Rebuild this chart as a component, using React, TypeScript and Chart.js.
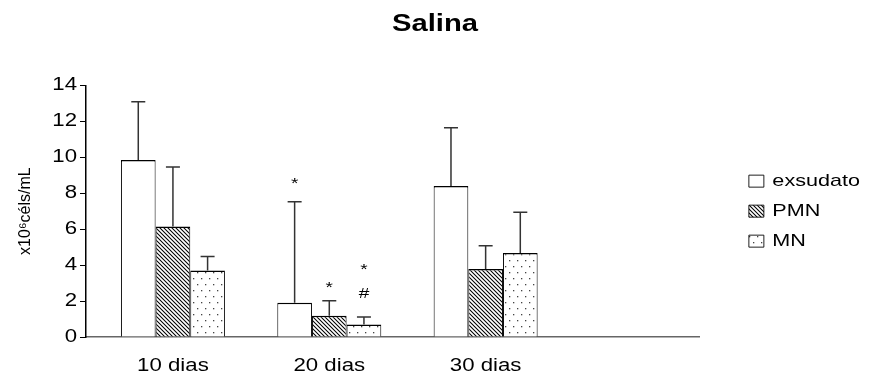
import React, { useEffect, useRef } from 'react';
import { Chart, registerables } from 'chart.js';

Chart.register(...registerables);

const categories = ['10 dias', '20 dias', '30 dias'];
const positions = [1, 2, 3];

const exsudato = [9.85, 1.9, 8.4];
const exsudatoSD = [3.24, 5.62, 3.24];
const pmn = [6.14, 1.18, 3.78];
const pmnSD = [3.32, 0.84, 1.29];
const mn = [3.7, 0.7, 4.67];
const mnSD = [0.78, 0.41, 2.27];

const yTicks = [0, 2, 4, 6, 8, 10, 12, 14];

// significance marks: series index, category index, symbol, value where glyph sits
const markSeries = [0, 1, 2, 2];
const markCategory = [1, 1, 1, 1];
const markText = ['*', '*', '*', '#'];
const markValue = [8.65, 2.87, 3.92, 2.44];

const FONT = "'Liberation Sans', Arial, sans-serif";
const SX = 1.27; // horizontal text stretch seen in the reference
const LEGEND_EXTRA = 36.5;

function makeHatch(ctx: CanvasRenderingContext2D) {
  const c = document.createElement('canvas');
  c.width = 4;
  c.height = 4;
  const g = c.getContext('2d')!;
  g.fillStyle = '#fff';
  g.fillRect(0, 0, 4, 4);
  g.strokeStyle = '#000';
  g.lineWidth = 1.05;
  g.beginPath();
  g.moveTo(-1, -1);
  g.lineTo(5, 5);
  g.moveTo(-1, 3);
  g.lineTo(1, 5);
  g.moveTo(3, -1);
  g.lineTo(5, 1);
  g.stroke();
  return ctx.createPattern(c, 'repeat')!;
}

function makeDots(ctx: CanvasRenderingContext2D) {
  const c = document.createElement('canvas');
  c.width = 8;
  c.height = 12;
  const g = c.getContext('2d')!;
  g.fillStyle = '#fff';
  g.fillRect(0, 0, 8, 12);
  g.fillStyle = '#444';
  g.fillRect(1, 2, 1.3, 1.3);
  g.fillRect(5, 8, 1.3, 1.3);
  return ctx.createPattern(c, 'repeat')!;
}

function stretchText(ctx: any) {
  if (ctx._stretched) return;
  ctx._stretched = true;
  ctx._sx = SX;
  const origFill = ctx.fillText.bind(ctx);
  const origMeasure = ctx.measureText.bind(ctx);
  ctx.fillText = function (text: string, x: number, y: number, maxWidth?: number) {
    const sx = ctx._sx;
    if (sx === 1) {
      return maxWidth === undefined ? origFill(text, x, y) : origFill(text, x, y, maxWidth);
    }
    ctx.save();
    ctx.translate(x, y);
    ctx.scale(sx, 1);
    if (maxWidth === undefined) origFill(text, 0, 0);
    else origFill(text, 0, 0, maxWidth / sx);
    ctx.restore();
  };
  ctx.measureText = function (text: string) {
    const m = origMeasure(text);
    const sx = ctx._sx;
    return {
      width: m.width * sx,
      actualBoundingBoxAscent: m.actualBoundingBoxAscent,
      actualBoundingBoxDescent: m.actualBoundingBoxDescent,
      actualBoundingBoxLeft: m.actualBoundingBoxLeft * sx,
      actualBoundingBoxRight: m.actualBoundingBoxRight * sx,
      fontBoundingBoxAscent: m.fontBoundingBoxAscent,
      fontBoundingBoxDescent: m.fontBoundingBoxDescent,
    };
  };
}

export default function App() {
  const ref = useRef<HTMLCanvasElement | null>(null);

  useEffect(() => {
    document.body.style.margin = '0';
    const canvas = ref.current!;
    const ctx = canvas.getContext('2d')!;
    stretchText(ctx);
    const hatch = makeHatch(ctx);
    const dots = makeDots(ctx);

    const seriesValues = [exsudato, pmn, mn];
    const seriesSD = [exsudatoSD, pmnSD, mnSD];

    const helperPlugin = {
      id: 'helpers',
      beforeLayout(chart: any) {
        const lg = chart.legend;
        if (lg && !lg._patched) {
          const orig = lg.fit.bind(lg);
          lg.fit = function () {
            orig();
            this._origW = this.width;
            this.width += LEGEND_EXTRA;
          };
          lg._patched = true;
        }
      },
      afterLayout(chart: any) {
        const lg = chart.legend;
        if (lg && lg._origW) {
          lg.left = lg.right - lg._origW;
        }
      },
      beforeDraw(chart: any) {
        const y = chart.scales.y;
        if (y && !y._patchedTitle) {
          const orig = y.drawTitle.bind(y);
          y.drawTitle = function () {
            const c = this.ctx as any;
            c._sx = 1;
            orig();
            c._sx = SX;
          };
          y._patchedTitle = true;
        }
      },
      afterDatasetsDraw(chart: any) {
        const c = chart.ctx as CanvasRenderingContext2D;
        const yScale = chart.scales.y;
        c.save();
        c.strokeStyle = '#333';
        c.lineWidth = 1.5;
        seriesValues.forEach((vals, di) => {
          const meta = chart.getDatasetMeta(di);
          meta.data.forEach((bar: any, i: number) => {
            const top = yScale.getPixelForValue(vals[i] + seriesSD[di][i]);
            c.beginPath();
            c.moveTo(bar.x, bar.y);
            c.lineTo(bar.x, top);
            c.moveTo(bar.x - 7, top);
            c.lineTo(bar.x + 7, top);
            c.stroke();
          });
        });
        c.fillStyle = '#000';
        c.font = `15px ${FONT}`;
        c.textAlign = 'center';
        c.textBaseline = 'alphabetic';
        markText.forEach((t, k) => {
          const meta = chart.getDatasetMeta(markSeries[k]);
          const bar: any = meta.data[markCategory[k]];
          const m = c.measureText(t);
          const yc = yScale.getPixelForValue(markValue[k]);
          const yb = yc + (m.actualBoundingBoxAscent - m.actualBoundingBoxDescent) / 2;
          c.fillText(t, bar.x, yb);
        });
        c.restore();
      },
    };

    const border = { top: 1.5, left: 1, right: 1, bottom: 0 };
    const mk = (vals: number[]) => positions.map((x, i) => ({ x, y: vals[i] }));

    const chart = new Chart(ctx, {
      type: 'bar',
      data: {
        datasets: [
          { label: 'exsudato', data: mk(exsudato) as any, backgroundColor: '#fff', borderColor: '#000', borderWidth: border as any },
          { label: 'PMN', data: mk(pmn) as any, backgroundColor: hatch as any, borderColor: '#000', borderWidth: border as any },
          { label: 'MN', data: mk(mn) as any, backgroundColor: dots as any, borderColor: '#000', borderWidth: border as any },
        ],
      },
      options: {
        responsive: false,
        animation: false,
        datasets: { bar: { categoryPercentage: 0.665, barPercentage: 1 } },
        layout: { padding: { left: 0, right: 0, top: 0, bottom: 0 } },
        plugins: {
          title: {
            display: true,
            text: 'Salina',
            color: '#000',
            font: { family: FONT, size: 23, weight: 'bold' },
            padding: { top: 11.2, bottom: 46.5 },
          },
          legend: {
            position: 'right',
            align: 'center',
            fullSize: false,
            labels: {
              color: '#000',
              font: { family: FONT, size: 17 },
              boxWidth: 15,
              boxHeight: 12,
              padding: 13,
            },
          },
          tooltip: { enabled: false },
        },
        scales: {
          x: {
            type: 'linear',
            min: 0.444,
            max: 4.367,
            offset: false,
            grid: { display: false, drawTicks: false },
            border: { display: true, color: '#666', width: 1.5 },
            afterBuildTicks: (s: any) => {
              s.ticks = positions.map((v) => ({ value: v }));
            },
            afterFit: (s: any) => {
              s.height = 38;
            },
            ticks: {
              color: '#000',
              font: { family: FONT, size: 17.5 },
              padding: 19,
              autoSkip: false,
              maxRotation: 0,
              callback: (v: any) => {
                const i = positions.indexOf(Number(v));
                return i >= 0 ? categories[i] : '';
              },
            },
          },
          y: {
            min: 0,
            max: 14,
            afterBuildTicks: (s: any) => {
              s.ticks = yTicks.map((v) => ({ value: v }));
            },
            afterFit: (s: any) => {
              s.width = 86;
            },
            grid: { drawOnChartArea: false, drawTicks: true, tickLength: 6, color: '#000' },
            border: { display: true, color: '#000', width: 1.5 },
            ticks: {
              color: '#000',
              font: { family: FONT, size: 17.5 },
              padding: 3,
            },
            title: {
              display: true,
              text: 'x10⁶céls/mL',
              color: '#000',
              font: { family: FONT, size: 16 },
              padding: { top: 16, bottom: 0 },
            },
          },
        },
      } as any,
      plugins: [helperPlugin as any],
    });

    return () => chart.destroy();
  }, []);

  return <canvas ref={ref} width={870} height={375} style={{ display: 'block' }} />;
}
